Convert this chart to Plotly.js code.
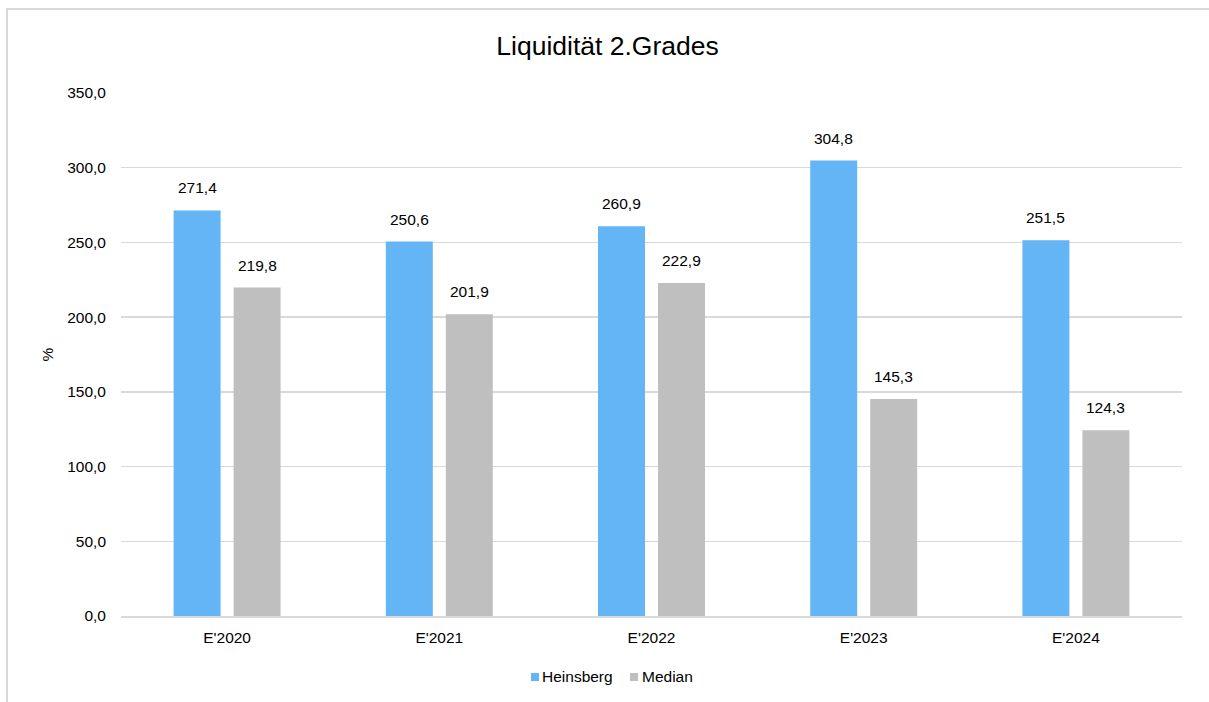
<!DOCTYPE html>
<html><head><meta charset="utf-8">
<script src="https://cdn.plot.ly/plotly-3.0.1.min.js"></script>
<style>html,body{margin:0;padding:0;background:#fff;}#chart{width:1209px;height:702px;}
#frame{position:absolute;left:6px;top:8px;width:1300px;height:800px;border-left:2px solid #d9d9d9;border-top:2px solid #d9d9d9;pointer-events:none;}</style>
</head><body>
<div id="chart"></div><div id="frame"></div>
<script>
const categories = ["E'2020","E'2021","E'2022","E'2023","E'2024"];
const heinsberg = [271.4, 250.6, 260.9, 304.8, 251.5];
const median = [219.8, 201.9, 222.9, 145.3, 124.3];
const seriesNames = ["Heinsberg","Median"];
const seriesColors = ['#64b5f6','#bfbfbf'];
const yTicks = [0,50,100,150,200,250,300,350];

const fmt = v => v.toFixed(1).replace('.', ',');
const font = 'Liberation Sans, Arial, sans-serif';

const traces = [
  {type:'bar', name:seriesNames[0], x:categories, y:heinsberg, marker:{color:seriesColors[0]}, hoverinfo:'skip', showlegend:false},
  {type:'bar', name:seriesNames[1], x:categories, y:median, marker:{color:seriesColors[1]}, hoverinfo:'skip', showlegend:false}
];
const annotations = [];
[[heinsberg,-30],[median,30]].forEach(([arr,dx])=>{
  arr.forEach((v,i)=>annotations.push({x:categories[i], y:v, text:fmt(v), showarrow:false,
    xshift:dx, yshift:12, yanchor:'bottom', font:{family:font,size:15.5,color:'#000'}}));
});
// legend (custom, compact squares like the original)
const shapes = [];
const legendPos = [[0.3864,0.3949],[0.4797,0.4892]];
seriesNames.forEach((n,i)=>{
  shapes.push({type:'rect', xref:'paper', yref:'paper', x0:legendPos[i][0], x1:legendPos[i][0]+0.0076, y0:-0.1243, y1:-0.1090, fillcolor:seriesColors[i], line:{width:0}});
  annotations.push({xref:'paper', yref:'paper', x:legendPos[i][1], y:-0.1166, xanchor:'left', yanchor:'middle', text:n, showarrow:false, font:{family:font,size:15.5,color:'#000'}});
});
const layout = {
  width:1209, height:702,
  margin:{l:121, r:27, t:93, b:86},
  paper_bgcolor:'#fff', plot_bgcolor:'#fff',
  title:{text:'Liquidität 2.Grades', x:0.5025, xanchor:'center', y:0.935, yanchor:'middle', font:{family:font,size:26.5,color:'#000'}},
  barmode:'group', bargap:0.4345, bargroupgap:0.217,
  xaxis:{type:'category', automargin:false, showgrid:false, showline:true, linecolor:'#d9d9d9', linewidth:1.5, ticks:'', ticklabelstandoff:7, tickfont:{family:font,size:15.5,color:'#000'}},
  yaxis:{range:[0,350], automargin:false, tickvals:yTicks, ticktext:yTicks.map(fmt), showgrid:true, gridcolor:'#d9d9d9', gridwidth:1.5, zeroline:false, ticks:'', ticklen:0, ticklabelstandoff:14,
    tickfont:{family:font,size:15.5,color:'#000'}, title:{text:'%', font:{family:font,size:15.5,color:'#000'}, standoff:9}},
  annotations:annotations, shapes:shapes,
  showlegend:false
};
Plotly.newPlot('chart', traces, layout, {displayModeBar:false, staticPlot:true});
</script>
</body></html>
